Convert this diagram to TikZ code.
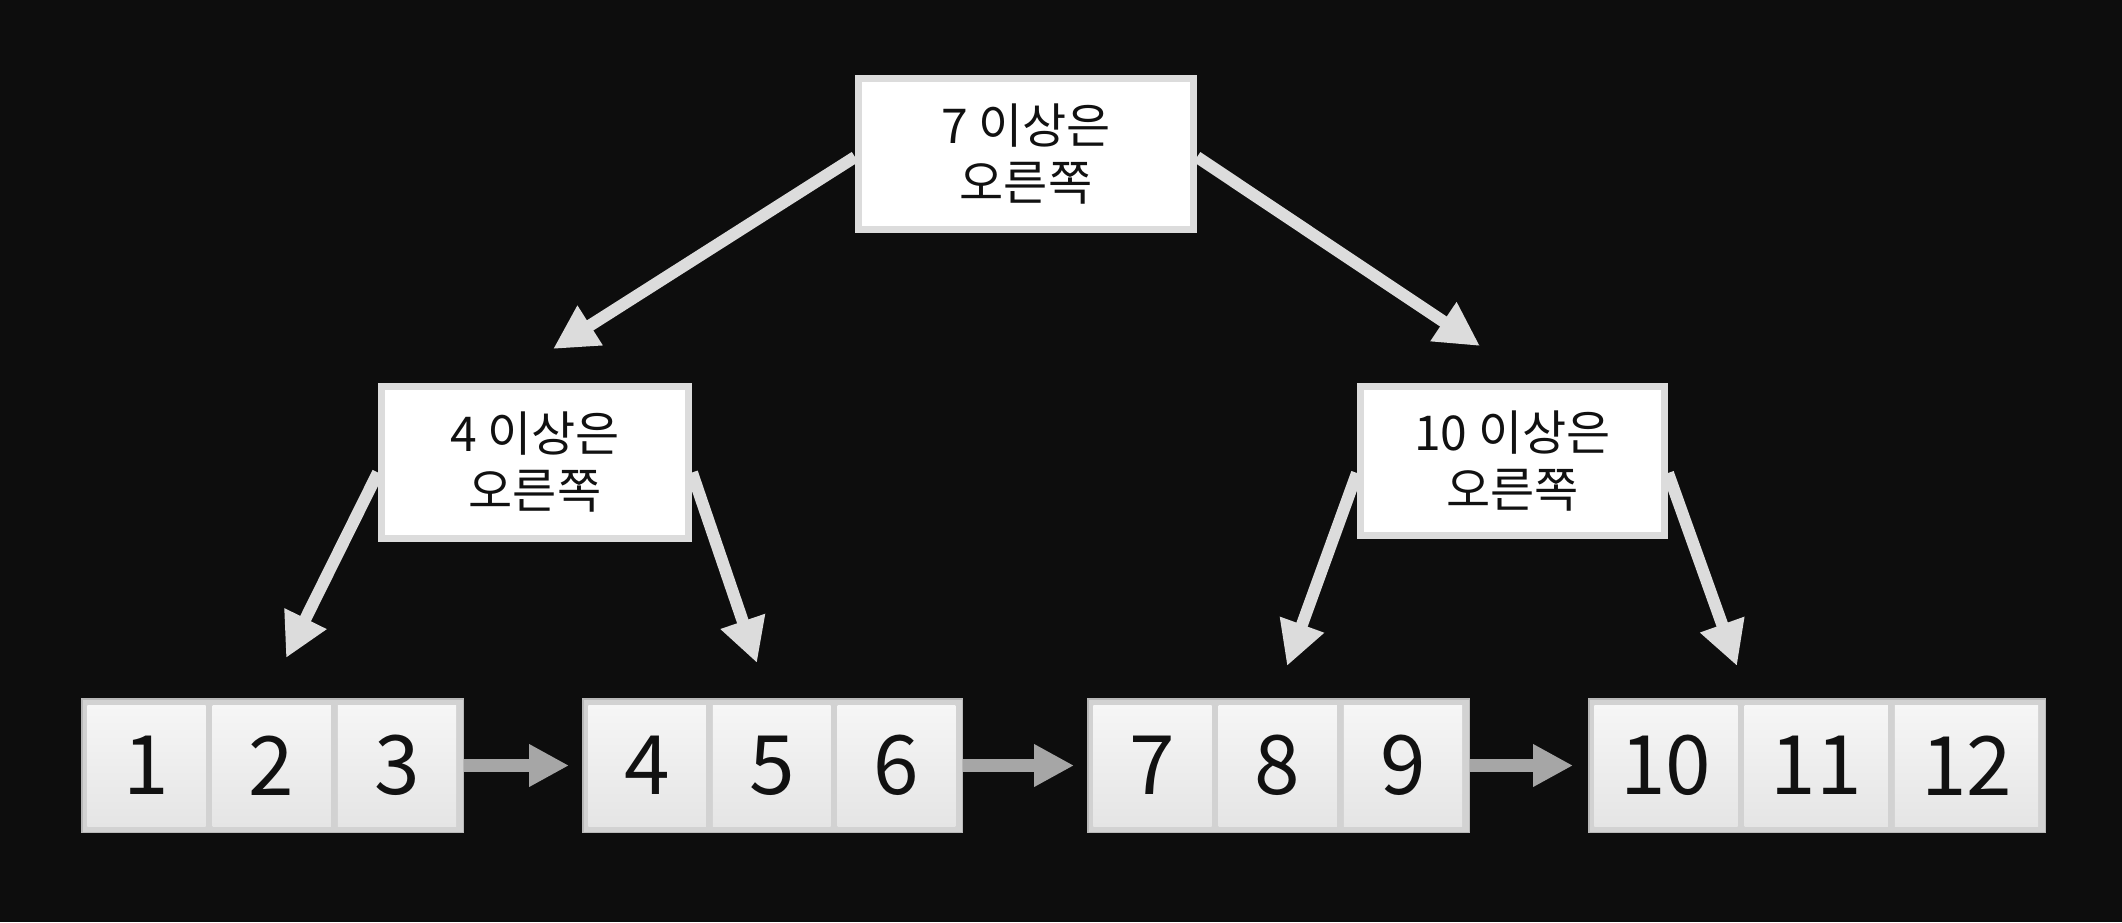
\documentclass[tikz,border=0pt]{standalone}
\usepackage{fontspec}
\setmainfont{Noto Sans CJK KR}
\usetikzlibrary{arrows.meta,calc}
\definecolor{bgc}{HTML}{0D0D0D}
\definecolor{boxedge}{HTML}{DCDCDC}
\definecolor{treegray}{HTML}{DCDCDC}
\definecolor{listgray}{HTML}{A6A6A6}
\definecolor{leafframe}{HTML}{D2D2D2}
\definecolor{leafedge}{HTML}{B8B8B8}
\definecolor{celltop}{HTML}{F6F6F6}
\definecolor{cellbot}{HTML}{E5E5E5}
\definecolor{ink}{HTML}{111111}
\pgfdeclarelayer{back}
\pgfsetlayers{back,main}
\tikzset{
  decbox/.style={draw=boxedge, line width=7pt, fill=white, inner sep=0pt,
    align=center, text=ink, font=\fontsize{48}{57}\selectfont},
  leafbox/.style={draw=leafedge, line width=1.5pt, fill=leafframe,
    minimum height=133.5pt, inner sep=0pt},
  cellbox/.style={top color=celltop, bottom color=cellbot, draw=none,
    minimum height=121pt, inner sep=0pt, outer sep=0pt, anchor=west,
    text=ink, font=\fontsize{82}{82}\selectfont},
  treearrow/.style={draw=treegray, line width=12pt,
    -{Triangle[length=44pt,width=44pt]}},
  listarrow/.style={draw=listgray, line width=13pt,
    -{Triangle[length=40pt,width=40pt]}},
}
\begin{document}
\begin{tikzpicture}[x=1pt,y=-1pt]
\useasboundingbox (0,0) rectangle (2122,922);

% decision boxes
\node[decbox, minimum width=335pt, minimum height=151pt] (root) at (1026,154) {7 이상은\\오른쪽};
\node[decbox, minimum width=307pt, minimum height=152pt] (lft) at (535,462.5) {4 이상은\\오른쪽};
\node[decbox, minimum width=304pt, minimum height=149pt] (rgt) at (1512.5,461) {10 이상은\\오른쪽};

% leaf boxes
\node[leafbox, minimum width=381.5pt] (B1) at (272.5,765.5) {};
\node[leafbox, minimum width=379.5pt] (B2) at (772.5,765.5) {};
\node[leafbox, minimum width=381.5pt] (B3) at (1278.5,765.5) {};
\node[leafbox, minimum width=456.5pt] (B4) at (1817,765.5) {};

% cells
\node[cellbox, minimum width=118.3pt] (c1) at ([xshift=6.25pt]B1.west) {1};
\node[cellbox, minimum width=118.3pt] (c2) at ([xshift=7pt]c1.east) {2};
\node[cellbox, minimum width=118.3pt] (c3) at ([xshift=7pt]c2.east) {3};
\node[cellbox, minimum width=117.7pt] (c4) at ([xshift=6.25pt]B2.west) {4};
\node[cellbox, minimum width=117.7pt] (c5) at ([xshift=7pt]c4.east) {5};
\node[cellbox, minimum width=117.7pt] (c6) at ([xshift=7pt]c5.east) {6};
\node[cellbox, minimum width=118.3pt] (c7) at ([xshift=6.25pt]B3.west) {7};
\node[cellbox, minimum width=118.3pt] (c8) at ([xshift=7pt]c7.east) {8};
\node[cellbox, minimum width=118.3pt] (c9) at ([xshift=7pt]c8.east) {9};
\node[cellbox, minimum width=143.3pt] (c10) at ([xshift=6.25pt]B4.west) {10};
\node[cellbox, minimum width=143.3pt] (c11) at ([xshift=7pt]c10.east) {11};
\node[cellbox, minimum width=143.3pt] (c12) at ([xshift=7pt]c11.east) {12};

% arrow ends
\coordinate (tl) at (553,349);
\coordinate (tr) at (1480,346);
\coordinate (ll) at (286,658);
\coordinate (lr) at (757,663);
\coordinate (rl) at (1287,666);
\coordinate (rr) at (1737,666);

\begin{pgfonlayer}{back}
\fill[bgc] (0,0) rectangle (2122,922);
\draw[treearrow] ([yshift=-3pt]root.west) -- (tl);
\draw[treearrow] ([yshift=-3pt]root.east) -- (tr);
\draw[treearrow] ([yshift=-10pt]lft.west) -- (ll);
\draw[treearrow] ([yshift=-10pt]lft.east) -- (lr);
\draw[treearrow] ([yshift=-12pt]rgt.west) -- (rl);
\draw[treearrow] ([yshift=-12pt]rgt.east) -- (rr);
\draw[listarrow] (B1.east) -- ([xshift=-13pt]B2.west);
\draw[listarrow] (B2.east) -- ([xshift=-13pt]B3.west);
\draw[listarrow] (B3.east) -- ([xshift=-15pt]B4.west);
\end{pgfonlayer}
\end{tikzpicture}
\end{document}
